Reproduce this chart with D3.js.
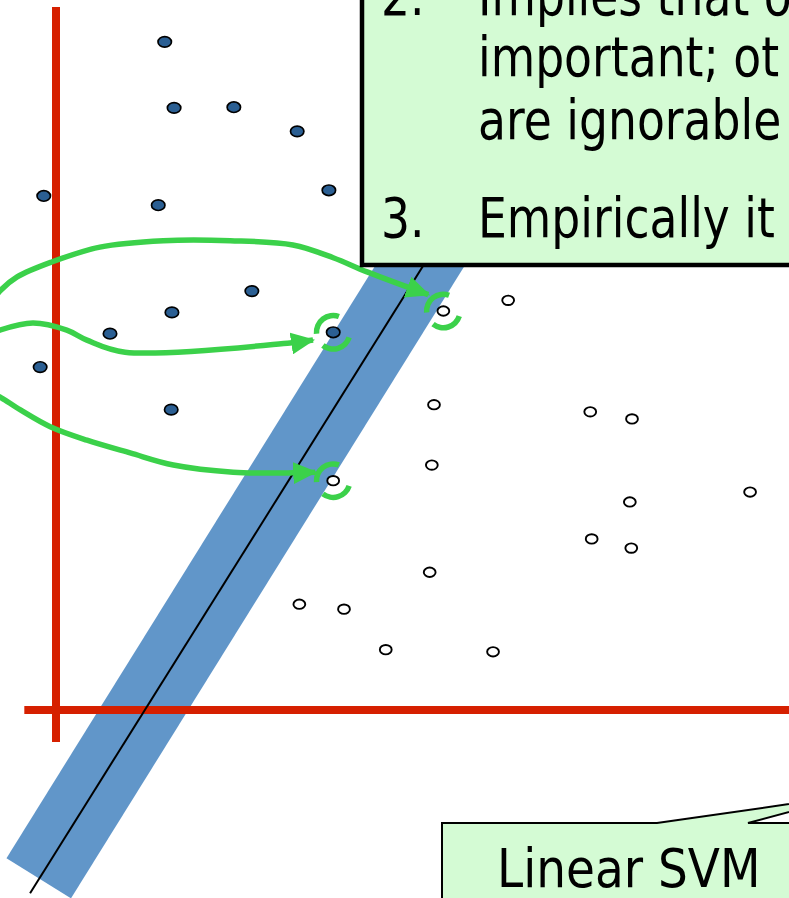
<!DOCTYPE html>
<html><head><meta charset="utf-8">
<script src="https://cdn.jsdelivr.net/npm/d3@7"></script>
<style>html,body{margin:0;padding:0;background:#fff;overflow:hidden}svg{display:block}</style>
</head><body>
<svg id="c" width="789" height="898"></svg>
<script>
// ---- data (chart units) ----
const classA = [ // filled points
  [15.1,94.1],[16.4,84.8],[24.7,84.9],[33.5,81.5],[-1.7,72.4],[14.2,71.1],[37.9,73.2],
  [27.2,59.0],[16.1,56.0],[7.5,53.0],[-2.2,48.3],[16.0,42.3],[38.5,53.2]
];
const classB = [ // open points
  [62.8,57.7],[53.8,56.2],[38.5,32.3],[52.5,43.0],[52.2,34.5],[74.2,42.0],[80.0,41.0],
  [96.4,30.7],[79.7,29.3],[74.4,24.1],[79.9,22.8],[51.9,19.4],[33.8,14.9],[40.0,14.2],
  [45.8,8.5],[60.7,8.2]
];
const supportVectors = [[38.5,53.2],[53.8,56.2],[38.5,32.3]];
const hyperplane = [[-3.6,-25.8],[56.7,71.8]];
const margin = [[-2.4,-23.7],[54.3,68.7]];
const arrowTop = [[-8.5,58.0],[-7.8,59.0],[-5.4,61.0],[-0.6,63.1],[6.1,65.2],[14.9,66.1],[24.2,66.1],[32.9,65.5],[38.5,63.7],[43.2,61.7],[51.7,58.5]];
const arrowMid = [[-8.5,53.2],[-7.8,53.5],[-3.2,54.5],[1.5,53.5],[4.3,52.1],[9.6,50.4],[32.5,51.7],[35.7,52.1]];
const arrowBot = [[-8.5,44.4],[-7.8,44.1],[-5.0,42.3],[-0.8,39.9],[4.3,38.0],[10.3,36.2],[16.3,34.5],[24.6,33.5],[32.9,33.4],[36.0,33.5]];
const xAxisExtent = [-4.4,105];
const yAxisExtent = [-4.5,99.0];
const boxLines = [
  {num:"2.", text:"Implies that o", y:15},
  {num:"", text:"important; ot", y:76},
  {num:"", text:"are ignorable", y:139},
  {num:"3.", text:"Empirically it", y:237}
];
const calloutText = "Linear SVM";

// ---- scales ----
const x = d3.scaleLinear().domain([0,100]).range([56,776]);
const y = d3.scaleLinear().domain([0,100]).range([710,0]);

const svg = d3.select("#c");
const GREEN = "#3bd14a", RED = "#d62000", BLUE = "#6196c9", DOT = "#2b5f93", BOXFILL = "#d4fbd4";

svg.append("defs").append("marker")
  .attr("id","ah").attr("viewBox","0 -11 24 22").attr("refX",22).attr("refY",0)
  .attr("markerWidth",24).attr("markerHeight",22).attr("markerUnits","userSpaceOnUse")
  .attr("orient","auto")
  .append("path").attr("d","M0,-11L24,0L0,11Z").attr("fill",GREEN);

const line = d3.line().x(d=>x(d[0])).y(d=>y(d[1]));

// margin band
svg.append("path").attr("d",line(margin)).attr("stroke",BLUE).attr("stroke-width",76)
  .attr("stroke-linecap","butt").attr("fill","none");

// axes
svg.append("line").attr("x1",x(0)).attr("x2",x(0)).attr("y1",y(yAxisExtent[1])).attr("y2",y(yAxisExtent[0]))
  .attr("stroke",RED).attr("stroke-width",8);
svg.append("line").attr("x1",x(xAxisExtent[0])).attr("x2",x(xAxisExtent[1])).attr("y1",y(0)).attr("y2",y(0))
  .attr("stroke",RED).attr("stroke-width",8);

// hyperplane
svg.append("path").attr("d",line(hyperplane)).attr("stroke","#000").attr("stroke-width",2).attr("fill","none");

// points
svg.append("g").selectAll("ellipse").data(classA).join("ellipse")
  .attr("cx",d=>x(d[0])).attr("cy",d=>y(d[1])).attr("rx",6.7).attr("ry",5.3)
  .attr("fill",DOT).attr("stroke","#000").attr("stroke-width",1.7);
svg.append("g").selectAll("ellipse").data(classB).join("ellipse")
  .attr("cx",d=>x(d[0])).attr("cy",d=>y(d[1])).attr("rx",5.9).attr("ry",4.7)
  .attr("fill","#fff").attr("stroke","#000").attr("stroke-width",1.9);

// green arrows
const curve = d3.line().x(d=>x(d[0])).y(d=>y(d[1])).curve(d3.curveCatmullRom.alpha(0.5));
[arrowTop,arrowMid,arrowBot].forEach(a=>{
  svg.append("path").attr("d",curve(a)).attr("stroke",GREEN).attr("stroke-width",5.5)
    .attr("fill","none").attr("stroke-linejoin","round").attr("marker-end","url(#ah)");
});
const deg = Math.PI/180;
const arcU = d3.arc().innerRadius(14).outerRadius(19.5).startAngle(-95*deg).endAngle(20*deg);
const arcL = d3.arc().innerRadius(14).outerRadius(19.5).startAngle(108*deg).endAngle(218*deg);
supportVectors.forEach(s=>{
  const g = svg.append("g").attr("transform",`translate(${x(s[0])},${y(s[1])})`);
  g.append("path").attr("d",arcU()).attr("fill",GREEN);
  g.append("path").attr("d",arcL()).attr("fill",GREEN);
});

// top text box
svg.append("rect").attr("x",362).attr("y",-20).attr("width",500).attr("height",285)
  .attr("fill",BOXFILL).attr("stroke","#000").attr("stroke-width",4.5);
const tb = svg.append("g").attr("font-family","'DejaVu Sans', Verdana, sans-serif").attr("font-size",55).attr("fill","#000");
boxLines.forEach(l=>{
  if(l.num) tb.append("text").attr("transform",`translate(381,${l.y}) scale(0.83,1)`).text(l.num);
  tb.append("text").attr("transform",`translate(478,${l.y}) scale(0.83,1)`).text(l.text);
});

// bottom callout
svg.append("path").attr("d","M442,920L442,823L657,823L852,795L748,823L900,823L900,920Z")
  .attr("fill",BOXFILL).attr("stroke","#000").attr("stroke-width",2).attr("stroke-linejoin","miter");
svg.append("text").attr("transform","translate(497,887) scale(0.87,1)")
  .attr("font-family","'DejaVu Sans', Verdana, sans-serif").attr("font-size",54).attr("fill","#000").text(calloutText);
</script>
</body></html>
